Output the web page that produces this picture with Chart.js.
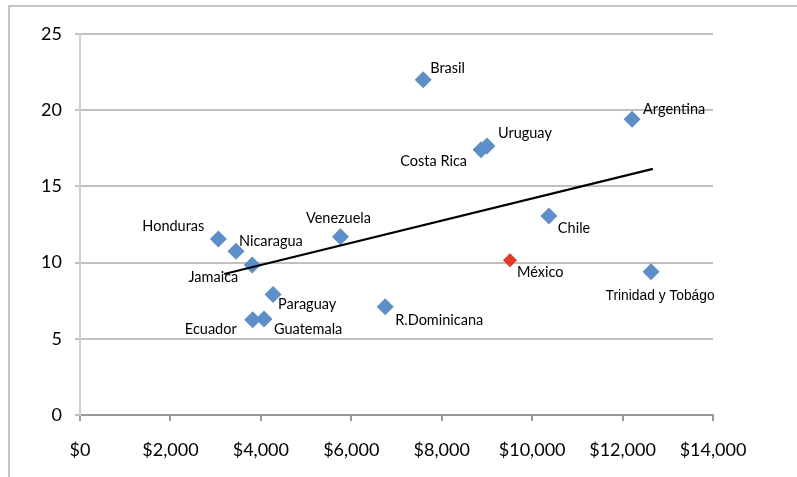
<!DOCTYPE html>
<html>
<head>
<meta charset="utf-8">
<script src="https://cdn.jsdelivr.net/npm/chart.js@4.4.1/dist/chart.umd.min.js"></script>
<style>
  html, body { margin: 0; padding: 0; background: #fff; }
  #wrap { position: relative; width: 797px; height: 477px; }
</style>
</head>
<body>
<div id="wrap"><canvas id="chart" width="797" height="477"></canvas></div>
<script>
// GDP per capita (USD) vs. indicator value, one point per country
const countries = [
  'Brasil', 'Argentina', 'Uruguay', 'Costa Rica', 'Chile', 'México',
  'Trinidad y Tobágo', 'Venezuela', 'Honduras', 'Nicaragua', 'Jamaica',
  'Paraguay', 'Ecuador', 'Guatemala', 'R.Dominicana'
]
const gdpPerCapita = [
  7590, 12210, 9000, 8870, 10370, 9510,
  12630, 5760, 3060, 3450, 3810,
  4270, 3820, 4070, 6750
]
const indicator = [
  22.0, 19.4, 17.65, 17.4, 13.05, 10.15,
  9.4, 11.7, 11.55, 10.75, 9.85,
  7.9, 6.25, 6.3, 7.1
]

// linear trend, end points
const trendX = [3190, 12670]
const trendY = [9.25, 16.15]

const xTicks = [0, 2000, 4000, 6000, 8000, 10000, 12000, 14000]
const yTicks = [0, 5, 10, 15, 20, 25]

const HIGHLIGHT = 'México'
const BLUE = '#5b8fcb'
const RED = '#ec3527'
const FONT = 'Lato, "Open Sans", sans-serif'

// label placement per country: [dx, dy, align]
const labelPlacement = {
  'Brasil': [7, -11, 'left'],
  'Argentina': [11, -10, 'left'],
  'Uruguay': [11, -13, 'left'],
  'Costa Rica': [-14, 12, 'right'],
  'Chile': [9, 12, 'left'],
  'México': [7, 12, 'left'],
  'Trinidad y Tobágo': [9, 24, 'center'],
  'Venezuela': [-2, -18, 'center'],
  'Honduras': [-14, -13, 'right'],
  'Nicaragua': [3, -10, 'left'],
  'Jamaica': [-14, 12, 'right'],
  'Paraguay': [5, 10, 'left'],
  'Ecuador': [-16, 10, 'right'],
  'Guatemala': [10, 10, 'left'],
  'R.Dominicana': [10, 14, 'left']
}

const points = countries.map((c, i) => ({ x: gdpPerCapita[i], y: indicator[i] }))
const trend = trendX.map((x, i) => ({ x, y: trendY[i] }))

const frame = {
  id: 'frame',
  beforeDraw(chart) {
    const ctx = chart.ctx
    ctx.save()
    ctx.strokeStyle = '#c3c3cb'
    ctx.lineWidth = 2
    ctx.beginPath()
    ctx.moveTo(9, chart.height)
    ctx.lineTo(9, 6)
    ctx.lineTo(chart.width, 6)
    ctx.stroke()
    ctx.restore()
  }
}

const pointLabels = {
  id: 'pointLabels',
  beforeDatasetsDraw(chart) {
    const ctx = chart.ctx
    const meta = chart.getDatasetMeta(0)
    ctx.save()
    ctx.fillStyle = '#000'
    ctx.textBaseline = 'middle'
    meta.data.forEach((el, i) => {
      const name = countries[i]
      const [dx, dy, align] = labelPlacement[name]
      ctx.font = name === 'Trinidad y Tobágo'
        ? '13.8px "Liberation Sans", Arial, sans-serif'
        : '14.5px ' + FONT
      ctx.textAlign = align
      ctx.fillText(name, el.x + dx, el.y + dy)
    })
    ctx.restore()
  }
}

new Chart(document.getElementById('chart'), {
  type: 'scatter',
  data: {
    datasets: [
      {
        data: points,
        order: 2,
        pointStyle: 'rectRot',
        pointRadius: ctx => countries[ctx.dataIndex] === HIGHLIGHT ? 7 : 8.5,
        pointHoverRadius: 8.5,
        pointBorderWidth: 0,
        backgroundColor: ctx => countries[ctx.dataIndex] === HIGHLIGHT ? RED : BLUE,
        borderColor: ctx => countries[ctx.dataIndex] === HIGHLIGHT ? RED : BLUE
      },
      {
        type: 'line',
        data: trend,
        order: 1,
        borderColor: '#000',
        borderWidth: 2.2,
        pointRadius: 0,
        fill: false
      }
    ]
  },
  options: {
    responsive: false,
    animation: false,
    events: [],
    layout: { padding: { top: 34, right: 84, left: 0, bottom: 0 } },
    plugins: {
      legend: { display: false },
      tooltip: { enabled: false }
    },
    scales: {
      x: {
        type: 'linear',
        min: 0,
        max: 14000,
        afterFit(scale) { scale.height = 62 },
        afterBuildTicks(scale) { scale.ticks = xTicks.map(v => ({ value: v })) },
        grid: {
          drawOnChartArea: false,
          drawTicks: true,
          tickLength: 6,
          color: '#9a9a9a',
          lineWidth: 2
        },
        border: { color: '#9a9a9a', width: 2 },
        ticks: {
          padding: 18,
          color: '#000',
          font: { family: FONT, size: 18 },
          maxRotation: 0,
          callback: v => '$' + Number(v).toLocaleString('en-US')
        }
      },
      y: {
        min: 0,
        max: 25,
        afterFit(scale) { scale.width = 80 },
        afterBuildTicks(scale) { scale.ticks = yTicks.map(v => ({ value: v })) },
        grid: {
          color: '#c0c0c0',
          lineWidth: 2,
          drawTicks: true,
          tickLength: 5
        },
        border: { color: '#d0d0d0', width: 2 },
        ticks: {
          padding: 13,
          color: '#000',
          font: { family: FONT, size: 18 }
        }
      }
    }
  },
  plugins: [frame, pointLabels]
})
</script>
</body>
</html>
